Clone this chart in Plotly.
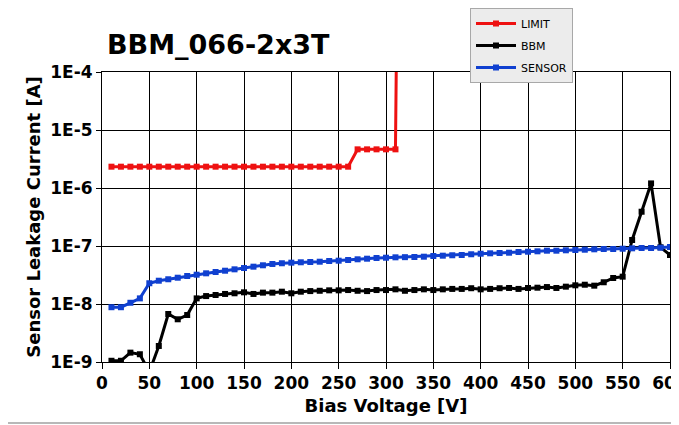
import plotly.graph_objects as go

# ---------------- data ----------------
voltage = list(range(10, 610, 10))

sensor_current = [
    8.8e-9, 8.8e-9, 1.05e-8, 1.25e-8, 2.28e-8, 2.52e-8, 2.67e-8, 2.84e-8, 3.04e-8, 3.2e-8,
    3.38e-8, 3.56e-8, 3.75e-8, 3.96e-8, 4.17e-8, 4.4e-8, 4.65e-8, 4.9e-8, 5.04e-8, 5.16e-8,
    5.24e-8, 5.3e-8, 5.36e-8, 5.51e-8, 5.58e-8, 5.74e-8, 5.9e-8, 6.04e-8, 6.21e-8, 6.28e-8,
    6.38e-8, 6.42e-8, 6.46e-8, 6.54e-8, 6.73e-8, 6.81e-8, 6.92e-8, 7.0e-8, 7.2e-8, 7.36e-8,
    7.48e-8, 7.57e-8, 7.66e-8, 7.88e-8, 7.97e-8, 8.1e-8, 8.3e-8, 8.3e-8, 8.43e-8, 8.53e-8,
    8.63e-8, 8.77e-8, 8.87e-8, 8.87e-8, 8.98e-8, 9.12e-8, 9.24e-8, 9.24e-8, 9.35e-8, 9.61e-8,
]

bbm_current = [
    1.05e-9, 1.05e-9, 1.45e-9, 1.36e-9, 6.7e-10, 1.89e-9, 6.73e-9, 5.45e-9, 6.46e-9, 1.25e-8,
    1.37e-8, 1.43e-8, 1.49e-8, 1.53e-8, 1.59e-8, 1.49e-8, 1.57e-8, 1.57e-8, 1.63e-8, 1.53e-8,
    1.63e-8, 1.67e-8, 1.69e-8, 1.72e-8, 1.72e-8, 1.74e-8, 1.69e-8, 1.67e-8, 1.74e-8, 1.74e-8,
    1.79e-8, 1.69e-8, 1.74e-8, 1.79e-8, 1.74e-8, 1.79e-8, 1.82e-8, 1.82e-8, 1.87e-8, 1.79e-8,
    1.82e-8, 1.87e-8, 1.89e-8, 1.82e-8, 1.89e-8, 1.91e-8, 1.96e-8, 1.89e-8, 1.99e-8, 2.1e-8,
    2.15e-8, 2.07e-8, 2.37e-8, 2.81e-8, 2.96e-8, 1.27e-7, 3.9e-7, 1.2e-6, 9.5e-8, 7.0e-8,
]

limit_voltage = list(range(10, 320, 10)) + [312]
limit_current = [2.33e-6] * 26 + [4.64e-6] * 5 + [1e-2]

y_tickvals = [1e-9, 1e-8, 1e-7, 1e-6, 1e-5, 1e-4]
y_ticktext = ["1E-9", "1E-8", "1E-7", "1E-6", "1E-5", "1E-4"]
x_tickvals = list(range(0, 650, 50))

# ---------------- figure ----------------
FONT = "DejaVu Sans"
W, H = 671, 417          # page body has an 8 px margin
L, R, T, B = 94, 9, 64, 63
PW, PH = W - L - R, H - T - B

fig = go.Figure()

series = [
    ("LIMIT", limit_voltage, limit_current, "#ee1111"),
    ("BBM", voltage, bbm_current, "#000000"),
    ("SENSOR", voltage, sensor_current, "#1040d0"),
]
for name, xs, ys, col in series:
    fig.add_trace(go.Scatter(
        x=xs, y=ys, name=name, mode="lines+markers", legendgroup=name,
        line=dict(color=col, width=3),
        marker=dict(symbol="square", size=6, color=col),
    ))

fig.update_layout(
    width=W, height=H,
    margin=dict(l=L, r=R, t=T, b=B, autoexpand=False),
    paper_bgcolor="white", plot_bgcolor="white",
    title=dict(text="BBM_066-2x3T", x=99 / W, xanchor="left",
               y=1 - 37 / H, yanchor="middle",
               font=dict(family=FONT, size=27, color="black", weight="bold")),
    showlegend=True,
    legend=dict(x=(462 - L) / PW, y=(T + PH) / PH, xanchor="left", yanchor="top",
                bgcolor="#ececec", bordercolor="#a8a8a8", borderwidth=1,
                font=dict(family=FONT, size=11, color="black"),
                tracegroupgap=3, itemwidth=40),
    xaxis=dict(range=[0, 600], tickvals=x_tickvals, ticktext=[str(v) for v in x_tickvals],
               showgrid=True, gridcolor="black", gridwidth=1, automargin=False,
               showline=True, linecolor="black", linewidth=1, mirror=True,
               ticks="outside", ticklen=6, tickcolor="black", ticklabeloverflow="allow",
               tickfont=dict(family=FONT, size=17, color="black", weight="bold"),
               zeroline=False,
               title=dict(text="Bias Voltage [V]", standoff=6,
                          font=dict(family=FONT, size=18, color="black", weight="bold"))),
    yaxis=dict(type="log", range=[-9, -4], tickvals=y_tickvals, ticktext=y_ticktext,
               showgrid=True, gridcolor="black", gridwidth=1, automargin=False,
               showline=True, linecolor="black", linewidth=1, mirror=True,
               ticks="outside", ticklen=5, tickcolor="black",
               tickfont=dict(family=FONT, size=17, color="black", weight="bold"),
               zeroline=False,
               title=dict(text="Sensor Leakage Current [A]", standoff=4,
                          font=dict(family=FONT, size=18, color="black", weight="bold"))),
    shapes=[
        dict(type="rect", xref="paper", yref="paper",
             x0=(664 - L) / PW, x1=(680 - L) / PW, y0=-0.4, y1=1.4,
             fillcolor="#d4d4d4", line=dict(width=0), layer="above"),
        dict(type="line", xref="paper", yref="paper",
             x0=-0.4, x1=(664 - L) / PW, y0=(T + PH - 415) / PH, y1=(T + PH - 415) / PH,
             line=dict(color="#b8b8b8", width=2), layer="above"),
    ],
)

fig.write_html("out.html")
